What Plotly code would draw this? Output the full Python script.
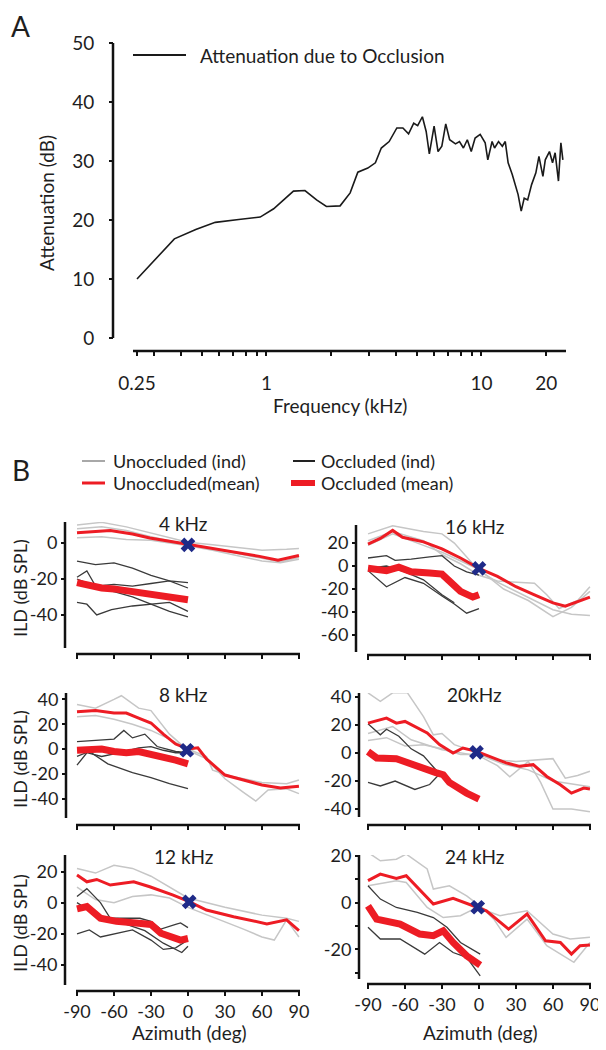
import plotly.graph_objects as go

# the page adds an 8px body margin, so the figure is drawn 8px smaller and shifted
W, H = 598, 1042
OFF = 8

# ---- panel A : attenuation due to occlusion ----
freq_khz = [0.25, 0.373, 0.469, 0.578, 0.743, 0.935, 1.08, 1.335, 1.51, 1.71, 1.90, 2.20, 2.45, 2.66,
            2.96, 3.21, 3.42, 3.72, 4.04, 4.31, 4.58, 4.84, 5.05, 5.31, 5.53, 5.72, 6.02, 6.28, 6.54,
            6.82, 7.11, 7.57, 7.90, 8.24, 8.59, 8.96, 9.34, 9.86, 10.4, 10.7, 11.2, 11.5, 12.0, 12.5,
            12.9, 13.3, 13.9, 14.4, 14.8, 15.3, 15.8, 16.4, 17.1, 17.9, 18.5, 19.3, 19.8, 20.7, 21.4,
            22.0, 22.8, 23.4, 23.9]
atten_db = [10.0, 16.8, 18.4, 19.6, 20.1, 20.5, 21.9, 24.9, 25.0, 23.4, 22.3, 22.4, 24.6, 28.1,
            28.8, 29.7, 32.2, 33.3, 35.6, 35.6, 34.6, 36.4, 36.0, 37.5, 35.0, 31.2, 35.9, 31.6, 32.5,
            36.3, 33.6, 32.9, 33.3, 32.2, 33.6, 31.6, 33.9, 34.5, 33.1, 30.2, 33.3, 32.2, 33.3, 32.5,
            33.3, 29.7, 27.7, 25.7, 24.3, 21.5, 23.7, 23.4, 26.0, 28.0, 30.8, 27.4, 30.2, 31.6, 29.7,
            31.4, 26.6, 33.1, 30.2]
freq_ticks = [0.25, 0.3, 0.4, 0.5, 0.6, 0.7, 0.8, 0.9, 1, 2, 3, 4, 5, 6, 7, 8, 9, 10, 20]
freq_ticklabels = ["0.25", "", "", "", "", "", "", "", "1", "", "", "", "", "", "", "", "", "10", "20"]

# ---- panel B : ILD vs azimuth ----
az_ticks = [-90, -60, -30, 0, 30, 60, 90]
az_ticklabels = ["-90", "-60", "-30", "0", "30", "60", "90"]

# 4 kHz
k4_um_az = [-90, -63, -45, -31, -15, 1, 15, 31, 45, 58, 73, 90]
k4_um = [5.7, 7.0, 5.0, 2.8, 1.0, -0.9, -2.5, -4.1, -5.8, -7.4, -9.6, -6.9]
k4_ui_az = [[-90, -70, -50, -30, -15, 0, 20, 40, 60, 80, 90],
            [-90, -70, -50, -30, -15, 0, 20, 40, 60, 75, 90],
            [-90, -70, -50, -30, 0, 30, 60, 75, 90]]
k4_ui = [[10, 11.5, 9, 5.5, 3, 0.5, -1, -2.5, -4, -3.5, -3],
         [3, 3.5, 2, 1.5, 0, -1.5, -4, -7, -10, -11, -9],
         [8, 9, 7, 3.5, -1, -4.5, -8.5, -10.5, -8]]
k4_oi_az = [[-90, -75, -60, -45, -30, -15, 0],
            [-90, -82, -74, -60, -45, -30, -15, 0],
            [-90, -82, -74, -62, -45, -30, -15, 0],
            [-90, -75, -60, -45, -30, -15, 0]]
k4_oi = [[-10, -12, -11, -14, -18, -21, -22],
         [-19, -15.5, -25, -27, -30, -34, -38, -41],
         [-33, -34, -40, -37, -35, -34, -33, -38],
         [-20, -24, -23, -24, -22.5, -21, -25]]
k4_om_az = [-90, -80, -70, -60, -45, -30, -15, 0]
k4_om = [-22, -23.5, -25, -25.5, -27, -28.5, -30, -31.5]
k4_ref = (0, -1)

# 16 kHz
k16_um_az = [-90, -80, -70, -62, -45, -30, -15, 0, 15, 30, 45, 60, 70, 80, 90]
k16_um = [19, 24, 31, 25, 21, 15, 7, -2, -9, -18, -25, -32, -35, -31, -27]
k16_ui_az = [[-90, -70, -45, -30, -20, -10, 0, 15, 30, 45, 60, 75, 90],
             [-90, -70, -45, -30, -15, 0, 15, 30, 45, 55, 65, 80, 90],
             [-90, -70, -45, -30, 0, 20, 40, 60, 75, 90]]
k16_ui = [[28, 35, 30, 28, 20, 8, -4, -14, -22, -30, -38, -42, -43],
          [22, 30, 22, 10, 2, -8, -13, -14, -15, -25, -37, -30, -18],
          [18, 28, 18, 12, -3, -20, -30, -44, -36, -22]]
k16_oi_az = [[-90, -75, -68, -55, -40, -30, -20, -10, 0],
             [-90, -75, -60, -45, -30, -20, -10, 0],
             [-90, -75, -60, -45, -30, -20]]
k16_oi = [[7, 9, 5, 6, 8, 9, 0, -5, -8],
          [-4, -18, -10, -15, -26, -33, -41, -37],
          [-2, 0, -5, -12, -25, -32]]
k16_om_az = [-90, -75, -65, -55, -40, -30, -25, -15, -5, 0]
k16_om = [-2, -4, -1, -5, -6, -7, -12, -22, -27, -25]
k16_ref = (0, -2)

# 8 kHz
k8_um_az = [-90, -75, -60, -50, -40, -30, -20, -10, 0, 8, 15, 25, 30, 45, 60, 75, 90]
k8_um = [30, 31, 29, 29, 25, 21, 12, 4, 0, 1, -8, -17, -21, -25, -29, -31.5, -30]
k8_ui_az = [[-90, -75, -60, -54, -40, -30, -15, 0, 15, 30, 45, 55, 65, 80, 90],
            [-90, -75, -60, -45, -30, -15, 0, 15, 20, 35, 60, 80, 90]]
k8_ui = [[36, 33, 40, 43, 33, 31, 12, -1, -8, -24, -35, -42, -33, -32, -36],
         [26, 27, 24, 20, 15, 8, 0, -6, -17, -22, -27, -28, -25]]
k8_oi_az = [[-90, -75, -60, -52, -45, -35, -25, -10, 0],
            [-90, -82, -70, -55, -40, -30, -20, -10, 0],
            [-90, -80, -65, -45, -30, -15, 0]]
k8_oi = [[6, 7, 8, 15, 9, 12, 2, -2, -3],
         [-13, -3, -6, -3, 1, 2, -1, -3, -3],
         [-6, -2, -12, -19, -23, -28, -32]]
k8_om_az = [-90, -80, -70, -60, -50, -40, -30, -20, -10, 0]
k8_om = [-1, 0, 0, -2, -3, -2, -4, -6, -9, -12]
k8_ref = (-1, -1)

# 20 kHz
k20_um_az = [-90, -75, -67, -60, -42, -32, -21, -13, -2, 12, 22, 33, 44, 55, 66, 75, 85, 90]
k20_um = [21.4, 25, 21.4, 22.6, 14.3, 6, 0, 3.6, 1.2, -3.6, -7, -9.5, -8.3, -16.7, -22.6, -28.6, -25, -25.7]
k20_ui_az = [[-90, -80, -70, -58, -45, -37, -30, -20, -10, 0, 15, 30, 45, 60, 70, 80, 90],
             [-90, -70, -55, -30, 0, 15, 25, 40, 50, 60, 75, 90],
             [-90, -75, -60, -45, -30, -15, 0, 20, 40, 60, 90]]
k20_ui = [[43, 37, 43, 43, 26, 13, 14, 6, 3, 0, -5, -6, -5, -4, -18, -16, -13],
          [14, 19, 9.5, 2.4, -2, -9, -17, -6, -21, -40, -40, -42],
          [9, 11, 5, 6, 3, -1, -1, -8, -12, -20, -24]]
k20_oi_az = [[-90, -80, -75, -65, -55, -45, -37, -32],
             [-90, -80, -68, -52, -40, -32]]
k20_oi = [[21, 13, 17, 12, 3, -2, -10, -15],
          [-21, -23.5, -20, -26, -22.5, -15]]
k20_om_az = [-90, -83, -67, -53, -42, -35, -29, -24, -10, 0]
k20_om = [1, -3.5, -4, -8.3, -13, -14, -15.5, -21, -28.6, -33]
k20_ref = (-2, 0.5)

# 12 kHz
k12_um_az = [-90, -82, -74, -63, -44, -31, -12, 1, 15, 37, 64, 80, 90]
k12_um = [17.7, 13.4, 14.9, 11.3, 13.4, 10.2, 4.9, 0.6, -4.7, -9, -13.6, -11, -17.9]
k12_ui_az = [[-90, -75, -60, -45, -30, -15, 0, 30, 60, 80, 90],
             [-90, -75, -60, -45, -30, -15, 0, 30, 45, 60, 70, 80, 90]]
k12_ui = [[22, 19, 24, 22, 17, 10, 3, -3, -8, -10, -12],
          [10, 2, 0, 4, 5, 3, -3, -12, -17, -22, -24, -11, -22]]
k12_oi_az = [[-90, -82, -71, -63, -50, -39, -30, -22, -10, -6, 0],
             [-90, -80, -71, -60, -45, -30, -20, -10, 0],
             [-90, -80, -65, -50, -35, -20, -5, 0]]
k12_oi = [[4, 9, 0, -10, -10, -10, -12, -17, -14, -13, -16],
          [-20, -17.5, -22, -20, -17.5, -24, -30, -29, -24],
          [0, -5, -11, -14, -18, -26, -32, -28]]
k12_om_az = [-90, -82, -71, -58, -40, -30, -22, -6, 0]
k12_om = [-4, -2.5, -10, -12, -13.2, -14, -19.6, -24, -23]
k12_ref = (1, 0.5)

# 24 kHz
k24_um_az = [-90, -80, -67, -59, -37, -21, -1, 6, 24, 39, 54, 66, 75, 82, 90]
k24_um = [9.4, 12.2, 10.4, 11.5, -0.6, 1.8, -2.1, -3.5, -11.4, -4.9, -16.4, -17.1, -22.1, -18.5, -18.2]
k24_ui_az = [[-90, -80, -67, -59, -42, -37, -24, -10, 6, 17, 39, 60, 74, 90],
             [-90, -67, -59, -42, -29, -15, 1, 12, 22, 39, 55, 77, 90]]
k24_ui = [[21.5, 17.9, 18.6, 20.8, 14.4, 5.8, 7.2, 2.9, -3.5, -5.6, -3.5, -13.5, -15.6, -14.9],
          [7.2, 9.4, 8.6, -2.1, -6.4, -5.6, -1.4, -7.1, -14.9, -7.1, -18.5, -25.6, -17.1]]
k24_oi_az = [[-90, -80, -67, -50, -37, -26, -15, 1],
             [-90, -80, -64, -44, -32, -21, -10, 1]]
k24_oi = [[7.2, 1.5, -2.1, -4.2, -6.4, -10.6, -17.1, -22.1],
          [-10.6, -15.6, -15.6, -22.1, -17.1, -21.4, -23.5, -31.4]]
k24_om_az = [-90, -83, -64, -48, -37, -29, -21, -10, 1]
k24_om = [-1.4, -7.1, -9.2, -13.5, -14.2, -12.1, -17.1, -22.8, -26.8]
k24_ref = (-1, -2)

RED = "#ed1c24"
GRAY = "#c6c6c6"
DARK = "#3a3a3a"
NAVY = "#1f2a88"
TXT = "#1e1e1e"
AX = "#111111"
FONT = "Lato"


def px(x):
    # reference pixel -> paper fraction
    return (x - OFF) / W


def py(y):
    return 1 - (y - OFF) / H


fig = go.Figure()
shapes = []
annos = []


def axis_lines(x_left, x0, x1, y_top, y_axis_bottom, y_bottom):
    # both axis lines in one path; the y line stops short of the x line (detached look)
    path = "M %.5f,%.5f L %.5f,%.5f M %.5f,%.5f L %.5f,%.5f" % (
        px(x_left), py(y_top), px(x_left), py(y_axis_bottom),
        px(x0), py(y_bottom), px(x1), py(y_bottom))
    shapes.append(dict(type="path", xref="paper", yref="paper", path=path,
                       line=dict(color=AX, width=2.5), layer="above"))


tick_style = dict(ticks="outside", ticklen=4, tickwidth=2, tickcolor=AX, showgrid=False,
                  zeroline=False, automargin=False, showline=False)

# ---------------- panel A ----------------
fig.add_trace(go.Scatter(x=freq_khz, y=atten_db, mode="lines", line=dict(color="#1a1a1a", width=1.6),
                         xaxis="x", yaxis="y"))
fig.update_layout(
    xaxis=dict(type="log", domain=[px(131), px(566)], range=[-0.630, 1.393],
               tickvals=freq_ticks, ticktext=freq_ticklabels,
               tickfont=dict(size=19), ticklabelstandoff=11, anchor="y", **tick_style),
    yaxis=dict(domain=[py(351), py(43)], range=[-2.2, 50], tickvals=[0, 10, 20, 30, 40, 50],
               tickfont=dict(size=19), ticklabelstandoff=11,
               anchor="free", position=px(113), **tick_style),
)
axis_lines(113, 133, 566, 43, 338, 351)
shapes.append(dict(type="line", xref="paper", yref="paper", x0=px(133), x1=px(186), y0=py(55), y1=py(55),
                   line=dict(color="#1a1a1a", width=2)))
annos.append(dict(text="Attenuation due to Occlusion", x=px(198), y=py(55), xanchor="left", yanchor="middle",
                  font=dict(size=19)))
annos.append(dict(text="A", x=px(9), y=py(26), xanchor="left", yanchor="middle", font=dict(size=28)))
annos.append(dict(text="Attenuation (dB)", x=px(47), y=py(203), textangle=-90, xanchor="center",
                  yanchor="middle", font=dict(size=19)))
annos.append(dict(text="Frequency (kHz)", x=px(340), y=py(405), xanchor="center", yanchor="middle",
                  font=dict(size=19)))

# ---------------- panel B ----------------
panels = [
    # label, data, x px (yaxis line, -90 pos, right end), y px (top, yline bottom, xaxis), y range, ticks
    ("4 kHz", (k4_um_az, k4_um, k4_ui_az, k4_ui, k4_oi_az, k4_oi, k4_om_az, k4_om, k4_ref),
     (65, 77, 301), (522, 648, 654), [-61.7, 11.7], [-40, -20, 0], ["-40", "-20", "0"]),
    ("16 kHz", (k16_um_az, k16_um, k16_ui_az, k16_ui, k16_oi_az, k16_oi, k16_om_az, k16_om, k16_ref),
     (356, 368, 592), (525, 652, 655), [-77.4, 35.7], [-60, -40, -20, 0, 20],
     ["-60", "-40", "-20", "0", "20"]),
    ("8 kHz", (k8_um_az, k8_um, k8_ui_az, k8_ui, k8_oi_az, k8_oi, k8_om_az, k8_om, k8_ref),
     (66, 77, 301), (693, 818, 825), [-61.3, 45.2], [-40, -20, 0, 20, 40],
     ["-40", "-20", "0", "20", "40"]),
    ("20kHz", (k20_um_az, k20_um, k20_ui_az, k20_ui, k20_oi_az, k20_oi, k20_om_az, k20_om, k20_ref),
     (359, 368, 592), (693, 817, 825), [-51.4, 42.9], [-40, -20, 0, 20, 40],
     ["-40", "-20", "0", "20", "40"]),
    ("12 kHz", (k12_um_az, k12_um, k12_ui_az, k12_ui, k12_oi_az, k12_oi, k12_om_az, k12_om, k12_ref),
     (65, 77, 301), (855, 985, 991), [-56.7, 30.6], [-40, -20, 0, 20], ["-40", "-20", "0", "20"]),
    ("24 kHz", (k24_um_az, k24_um, k24_ui_az, k24_ui, k24_oi_az, k24_oi, k24_om_az, k24_om, k24_ref),
     (359, 368, 592), (855, 979, 984), [-34.9, 20.4], [-30, -20, -10, 0, 10, 20],
     ["", "-20", "", "0", "", "20"]),
]

PPD = 1.233  # pixels per degree of azimuth

for i, (label, data, xs, ys, yrange, yt, ytt) in enumerate(panels):
    n = i + 2
    xa, ya = "x%d" % n, "y%d" % n
    um_az, um, ui_az, ui, oi_az, oi, om_az, om, ref = data
    x_left, x_start, x_end = xs
    y_top, y_lbot, y_bot = ys
    x_dom0 = x_start - 3
    x0_val = -90 - 3 / PPD
    x1_val = -90 + (x_end - x_start) / PPD
    for a, v in zip(ui_az, ui):
        fig.add_trace(go.Scatter(x=a, y=v, mode="lines", line=dict(color=GRAY, width=1.5),
                                 xaxis=xa, yaxis=ya))
    for a, v in zip(oi_az, oi):
        fig.add_trace(go.Scatter(x=a, y=v, mode="lines", line=dict(color=DARK, width=1.3),
                                 xaxis=xa, yaxis=ya))
    fig.add_trace(go.Scatter(x=um_az, y=um, mode="lines", line=dict(color=RED, width=3),
                             xaxis=xa, yaxis=ya))
    fig.add_trace(go.Scatter(x=om_az, y=om, mode="lines", line=dict(color=RED, width=7),
                             xaxis=xa, yaxis=ya))
    fig.add_trace(go.Scatter(x=[ref[0]], y=[ref[1]], mode="markers",
                             marker=dict(symbol="x", size=13, color=NAVY, line=dict(width=0)),
                             xaxis=xa, yaxis=ya))
    bottom = i >= 4
    fig.update_layout(**{
        "xaxis%d" % n: dict(domain=[px(x_dom0), px(x_end)], range=[x0_val, x1_val], tickvals=az_ticks,
                            ticktext=az_ticklabels, showticklabels=bottom, tickfont=dict(size=18),
                            anchor=ya, **tick_style),
        "yaxis%d" % n: dict(domain=[py(y_bot), py(y_top)], range=yrange, tickvals=yt, ticktext=ytt,
                            tickfont=dict(size=18), anchor="free", position=px(x_left), **tick_style),
    })
    axis_lines(x_left, x_start - 1, x_end - 1, y_top, y_lbot, y_bot)
    annos.append(dict(text=label, x=px(x_start + 106), y=py(y_top + 1), xanchor="center",
                      yanchor="middle", font=dict(size=19)))
    if x_left < 300:
        annos.append(dict(text="ILD (dB SPL)", x=px(20), y=py((y_top + y_bot) / 2), textangle=-90,
                          xanchor="center", yanchor="middle", font=dict(size=18)))
    if bottom:
        annos.append(dict(text="Azimuth (deg)", x=px(x_start + 112), y=py(1032), xanchor="center",
                          yanchor="middle", font=dict(size=19)))

# legend for panel B
for x0, x1, y, col, wd in [(82, 105, 461, "#a8a8a8", 2), (293, 315, 461, "#222222", 2),
                           (82, 105, 483, RED, 3), (291, 315, 483, RED, 6)]:
    shapes.append(dict(type="line", xref="paper", yref="paper", x0=px(x0), x1=px(x1), y0=py(y), y1=py(y),
                       line=dict(color=col, width=wd)))
for t, x, y in [("Unoccluded (ind)", 111, 461), ("Occluded (ind)", 319, 461),
                ("Unoccluded(mean)", 111, 483), ("Occluded (mean)", 319, 483)]:
    annos.append(dict(text=t, x=px(x), y=py(y), xanchor="left", yanchor="middle", font=dict(size=18)))
annos.append(dict(text="B", x=px(10), y=py(470), xanchor="left", yanchor="middle", font=dict(size=28)))

for a in annos:
    a.update(xref="paper", yref="paper", showarrow=False)

fig.update_layout(width=W, height=H, margin=dict(l=0, r=0, t=0, b=0, autoexpand=False), showlegend=False,
                  plot_bgcolor="rgba(0,0,0,0)", paper_bgcolor="white",
                  font=dict(family=FONT, size=19, color=TXT), shapes=shapes, annotations=annos)

fig.write_html("out.html")
